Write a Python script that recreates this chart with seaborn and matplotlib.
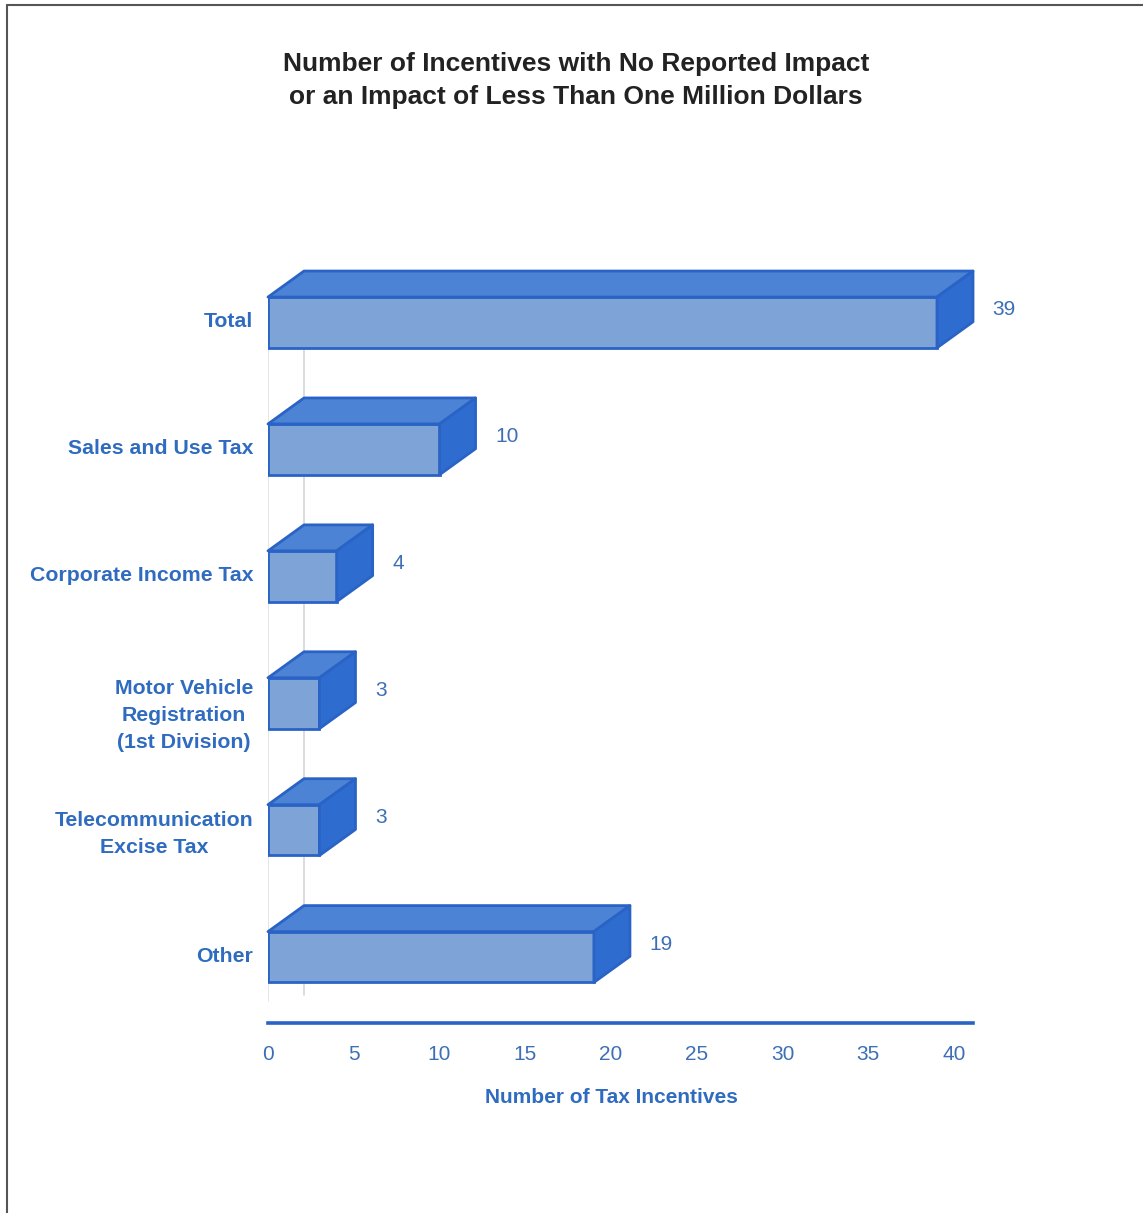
import matplotlib
matplotlib.use("Agg")
import matplotlib.pyplot as plt
from matplotlib.patches import Polygon
from matplotlib.lines import Line2D
from matplotlib.transforms import ScaledTranslation
import seaborn as sns
import pandas as pd

categories = [
    "Total",
    "Sales and Use Tax",
    "Corporate Income Tax",
    "Motor Vehicle\nRegistration\n(1st Division)",
    "Telecommunication\nExcise Tax",
    "Other",
]
counts = [39, 10, 4, 3, 3, 19]
x_ticks = [0, 5, 10, 15, 20, 25, 30, 35, 40]

title = "Number of Incentives with No Reported Impact\nor an Impact of Less Than One Million Dollars"
x_label = "Number of Tax Incentives"

# colours
FRONT = "#7ea3d6"
TOP = "#4c83d4"
SIDE = "#2e6ccf"
EDGE = "#2a63c6"
TEXT_BLUE = "#2f6cc0"
VALUE_BLUE = "#3d6fb6"

# extrusion depth of the pseudo-3D boxes (data units)
DX, DY = 2.1, 0.205

sns.set_theme(style="white")
plt.rcParams["font.family"] = ["Liberation Sans", "DejaVu Sans"]

fig = plt.figure(figsize=(11.43, 12.13), dpi=100)
ax = fig.add_axes([268 / 1143, 190 / 1213, 705 / 1143, 789.4 / 1213])

df = pd.DataFrame({"category": categories, "count": counts})
sns.barplot(data=df, x="count", y="category", orient="h", width=0.4,
            color=FRONT, saturation=1, edgecolor=EDGE, linewidth=2.0,
            ax=ax, zorder=3)

ax.set_xlim(0, 41.1)
ax.set_ylim(5.52, -0.7)

# faint floor/wall guide lines
ax.plot([0, 0], [0.2, 5.35], color="#e0e0e0", lw=1.2, zorder=1)
ax.plot([DX, DX], [0.0, 5.3], color="#d6d6d6", lw=1.2, zorder=1)

# top and side faces for each bar, built from the bar geometry
for bar, val in zip(ax.patches, counts):
    x0 = bar.get_x()
    w = bar.get_width()
    y0 = bar.get_y()
    h = bar.get_height()
    y_top, y_bot = y0, y0 + h
    x1 = x0 + w
    top = Polygon([(x0, y_top), (x0 + DX, y_top - DY), (x1 + DX, y_top - DY), (x1, y_top)],
                  closed=True, facecolor=TOP, edgecolor=EDGE, lw=2.0,
                  joinstyle="round", zorder=4, clip_on=False)
    side = Polygon([(x1, y_top), (x1 + DX, y_top - DY), (x1 + DX, y_bot - DY), (x1, y_bot)],
                   closed=True, facecolor=SIDE, edgecolor=EDGE, lw=2.0,
                   joinstyle="round", zorder=4, clip_on=False)
    ax.add_patch(top)
    ax.add_patch(side)
    ax.text(x1 + DX + 1.15, y0 + h / 2 - 0.1, f"{val}", ha="left", va="center",
            fontsize=15, color=VALUE_BLUE, clip_on=False)

# axes styling
for s in ["top", "right", "left"]:
    ax.spines[s].set_visible(False)
ax.spines["bottom"].set_color(EDGE)
ax.spines["bottom"].set_linewidth(2.6)

ax.set_xticks(x_ticks)
ax.set_xticklabels([str(t) for t in x_ticks])
ax.tick_params(axis="x", length=0, pad=16, labelsize=15, labelcolor=VALUE_BLUE)
ax.tick_params(axis="y", length=0, pad=10.5, labelsize=15.3, labelcolor=TEXT_BLUE)
for lbl in ax.get_yticklabels():
    lbl.set_fontweight("bold")
    lbl.set_multialignment("center")
    lbl.set_linespacing(1.55)
    # three-line label sits a little lower than its bar
    shift_px = -6 if lbl.get_text().count("\n") == 2 else 2.5
    lbl.set_transform(lbl.get_transform() + ScaledTranslation(0, shift_px / 100, fig.dpi_scale_trans))

ax.set_ylabel("")
ax.set_xlabel(x_label, fontsize=15, fontweight="bold", color=TEXT_BLUE)
ax.xaxis.set_label_coords(20 / 41.1, -0.082)
ax.xaxis.label.set_va("top")
ax.grid(False)

fig.text(576 / 1143, 1 - 80.5 / 1213, title, ha="center", va="center",
         fontsize=19, fontweight="bold", color="#222222", linespacing=1.47)

# page frame
fig.add_artist(Line2D([7 / 1143, 7 / 1143], [0, 1 - 5 / 1213], color="#555555", lw=1.5,
                      transform=fig.transFigure))
fig.add_artist(Line2D([7 / 1143, 1], [1 - 5 / 1213, 1 - 5 / 1213], color="#555555", lw=1.5,
                      transform=fig.transFigure))

fig.savefig("out.png", dpi=100, facecolor="white")
